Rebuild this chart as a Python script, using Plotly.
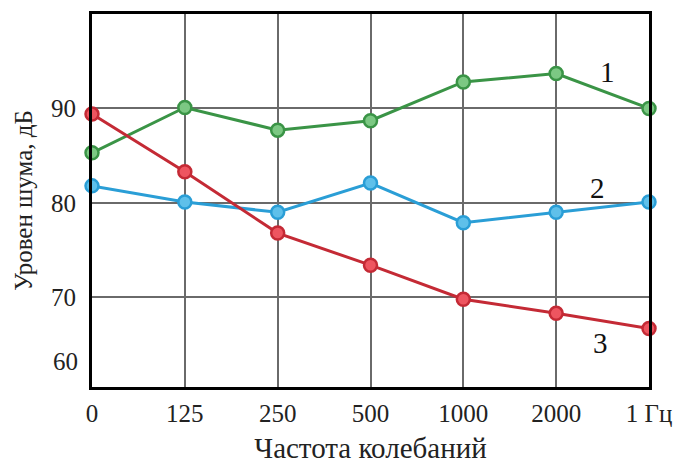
import plotly.graph_objects as go

categories = ["0", "125", "250", "500", "1000", "2000", "1 Гц"]
series1 = [85.3, 90.1, 87.7, 88.7, 92.8, 93.7, 90.0]
series2 = [81.8, 80.1, 79.0, 82.1, 77.9, 79.0, 80.1]
series3 = [89.4, 83.3, 76.8, 73.4, 69.8, 68.3, 66.7]
series_names = ["1", "2", "3"]
y_ticks = [70, 80, 90]

xpos = list(range(len(categories)))
font_family = "Liberation Serif, Times New Roman, serif"

fig = go.Figure()

styles = [
    dict(line="#3a9446", fill="#7cc883"),
    dict(line="#2a9ed6", fill="#5fc0ea"),
    dict(line="#c42a35", fill="#ee5560"),
]
for vals, st, nm in zip([series1, series2, series3], styles, series_names):
    fig.add_trace(go.Scatter(
        x=xpos, y=vals, mode="lines+markers", name=nm,
        line=dict(color=st["line"], width=3),
        marker=dict(symbol="circle", size=13, color=st["fill"],
                    line=dict(color=st["line"], width=2.5)),
        cliponaxis=False, showlegend=False,
    ))

# series labels
label_pos = [(6, 93.9, -42), (6, 81.6, -52), (6, 65.2, -49)]
for nm, (xx, yy, xs) in zip(series_names, label_pos):
    fig.add_annotation(x=xx, y=yy, text=nm, showarrow=False, xshift=xs,
                       font=dict(family=font_family, size=29, color="#111"))

# bottom "60" label (no grid line)
fig.add_annotation(xref="paper", x=0, y=63.2, yref="y", text="60", showarrow=False,
                   xanchor="right", xshift=-12,
                   font=dict(family=font_family, size=25, color="#222"))

# page body has an 8px margin, so the figure is sized to fit the window
fig.update_layout(
    width=676, height=456,
    margin=dict(l=84, r=35, t=6, b=77),
    paper_bgcolor="white", plot_bgcolor="white",
    font=dict(family=font_family, size=25, color="#222"),
)
fig.update_xaxes(
    range=[0, 6], tickvals=xpos, ticktext=categories, automargin=False,
    showgrid=True, gridcolor="#6a6a6a", gridwidth=1.5,
    showline=True, linecolor="black", linewidth=3, mirror=True,
    ticks="outside", ticklen=2, tickcolor="rgba(0,0,0,0)",
    zeroline=False,
    title=dict(text="Частота колебаний", font=dict(size=29), standoff=14),
)
fig.update_yaxes(
    range=[60.5, 100], tickvals=y_ticks, automargin=False,
    showgrid=True, gridcolor="#6a6a6a", gridwidth=1.5,
    showline=True, linecolor="black", linewidth=3, mirror=True,
    ticks="outside", ticklen=8, tickcolor="rgba(0,0,0,0)",
    zeroline=False,
    title=dict(text="Уровен шума, дБ", font=dict(size=25), standoff=12),
)

fig.write_html("out.html")
